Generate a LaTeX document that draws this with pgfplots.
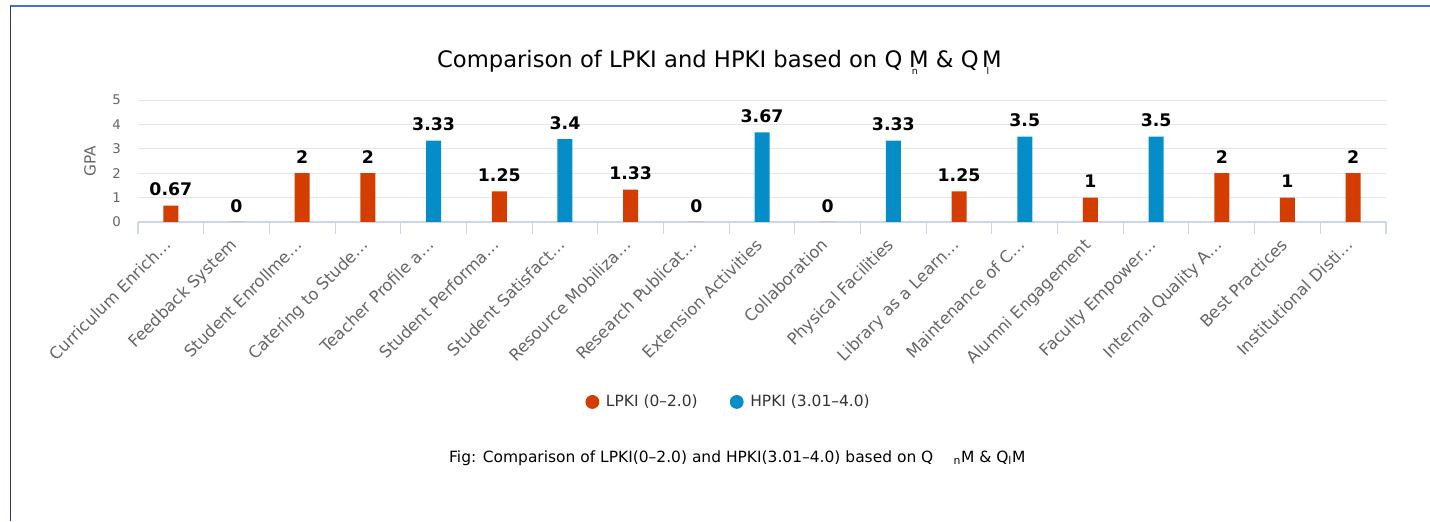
\documentclass[border=0pt]{standalone}
\usepackage{pgfplots}
\usepackage{pgfplotstable}
\pgfplotsset{compat=1.18}
\usepackage{fontspec}
\setmainfont{DejaVu Sans}
\definecolor{lpki}{RGB}{211,61,0}
\definecolor{hpki}{RGB}{5,141,199}
\definecolor{axgray}{RGB}{204,214,235}
\definecolor{gridgray}{RGB}{230,230,230}
\definecolor{labgray}{RGB}{102,102,102}
\definecolor{legtext}{RGB}{51,51,51}
\definecolor{frameblue}{RGB}{68,114,196}
\definecolor{framenavy}{RGB}{43,58,107}

\pgfplotstableread{
x y
0 0.67
1 0
2 2
3 2
5 1.25
7 1.33
8 0
10 0
12 1.25
14 1
16 2
17 1
18 2
}\lpkidata
\pgfplotstableread{
x y
4 3.33
6 3.4
9 3.67
11 3.33
13 3.5
15 3.5
}\hpkidata

\begin{document}
\begin{tikzpicture}
\path[use as bounding box] (0,0) rectangle (1072.5pt,390.75pt);
\draw[frameblue, line width=1.5pt] (7.5pt,385.9pt) -- (1072.5pt,385.9pt);
\draw[framenavy, line width=0.6pt] (7.5pt,386.5pt) -- (7.5pt,0pt);
\node[font=\fontsize{17}{19}\selectfont, text=black] at (539.5pt,344pt)
 {Comparison of LPKI and HPKI based on Q\hspace{0.3em}\makebox[0pt][l]{\hspace{0.12em}\raisebox{-0.3em}{\fontsize{7}{7}\selectfont n}}M \& Q\hspace{0.15em}\makebox[0pt][l]{\hspace{0.2em}\raisebox{-0.3em}{\fontsize{7}{7}\selectfont l}}M};
\node[font=\fontsize{11.6}{13}\selectfont, text=black] at (553pt,47.25pt)
 {Fig: Comparison of LPKI(0–2.0) and HPKI(3.01–4.0) based on Q\hspace{1.3em}\textsubscript{n}M \& Q\textsubscript{l}M};
\begin{axis}[
  at={(103.5pt,224.25pt)}, anchor=south west,
  scale only axis, width=936pt, height=91.5pt,
  xmin=-0.5, xmax=18.5, ymin=0, ymax=5,
  /pgf/number format/assume math mode=true,
  ybar, bar width=11.25pt, bar shift=0pt,
  axis x line*=bottom, axis y line*=left,
  x axis line style={axgray, line width=0.8pt, -},
  y axis line style={draw=none},
  xtick={0,...,18},
  xticklabels={Curriculum Enrich…, Feedback System, Student Enrollme…, Catering to Stude…, Teacher Profile a…, Student Performa…, Student Satisfact…, Resource Mobiliza…, Research Publicat…, Extension Activities, Collaboration, Physical Facilities, Library as a Learn…, Maintenance of C…, Alumni Engagement, Faculty Empower…, Internal Quality A…, Best Practices, Institutional Disti…},
  major x tick style={draw=none},
  minor xtick={-0.5,0.5,...,18.5},
  minor x tick style={axgray, line width=0.8pt},
  minor tick length=9pt,
  tick align=outside,
  xticklabel style={rotate=45, anchor=north east, inner sep=0pt, xshift=-9pt, yshift=-1pt, font=\fontsize{12.3}{14}\selectfont, text=labgray},
  ytick={0,1,2,3,4,5},
  major y tick style={draw=none},
  yticklabel style={font=\fontsize{10}{12}\selectfont, text=labgray, xshift=-5pt},
  ymajorgrids, y grid style={gridgray, line width=0.6pt},
  ylabel={GPA}, ylabel style={font=\fontsize{11.5}{13}\selectfont, text=labgray, at={(axis description cs:-0.0385,0.5)}, anchor=center},
  nodes near coords,
  every node near coord/.append style={font=\bfseries\fontsize{13}{13}\selectfont, text=black, inner sep=0pt, yshift=7pt, anchor=south},
  legend style={at={(0.4735,-1.475)}, anchor=center, draw=none, fill=none, legend columns=2,
    font=\fontsize{11.6}{13}\selectfont, text=legtext,
    /tikz/every odd column/.append style={column sep=3pt},
    /tikz/every even column/.append style={column sep=22pt}},
  legend cell align=left,
  clip=false,
]
\addplot[fill=lpki, draw=none, legend image code/.code={\fill[lpki] (0pt,0pt) circle (5.2pt);}] table[x=x,y=y] {\lpkidata};
\addlegendentry{LPKI (0–2.0)}
\addplot[fill=hpki, draw=none, legend image code/.code={\fill[hpki] (0pt,0pt) circle (5.2pt);}] table[x=x,y=y] {\hpkidata};
\addlegendentry{HPKI (3.01–4.0)}
\end{axis}
\end{tikzpicture}
\end{document}
